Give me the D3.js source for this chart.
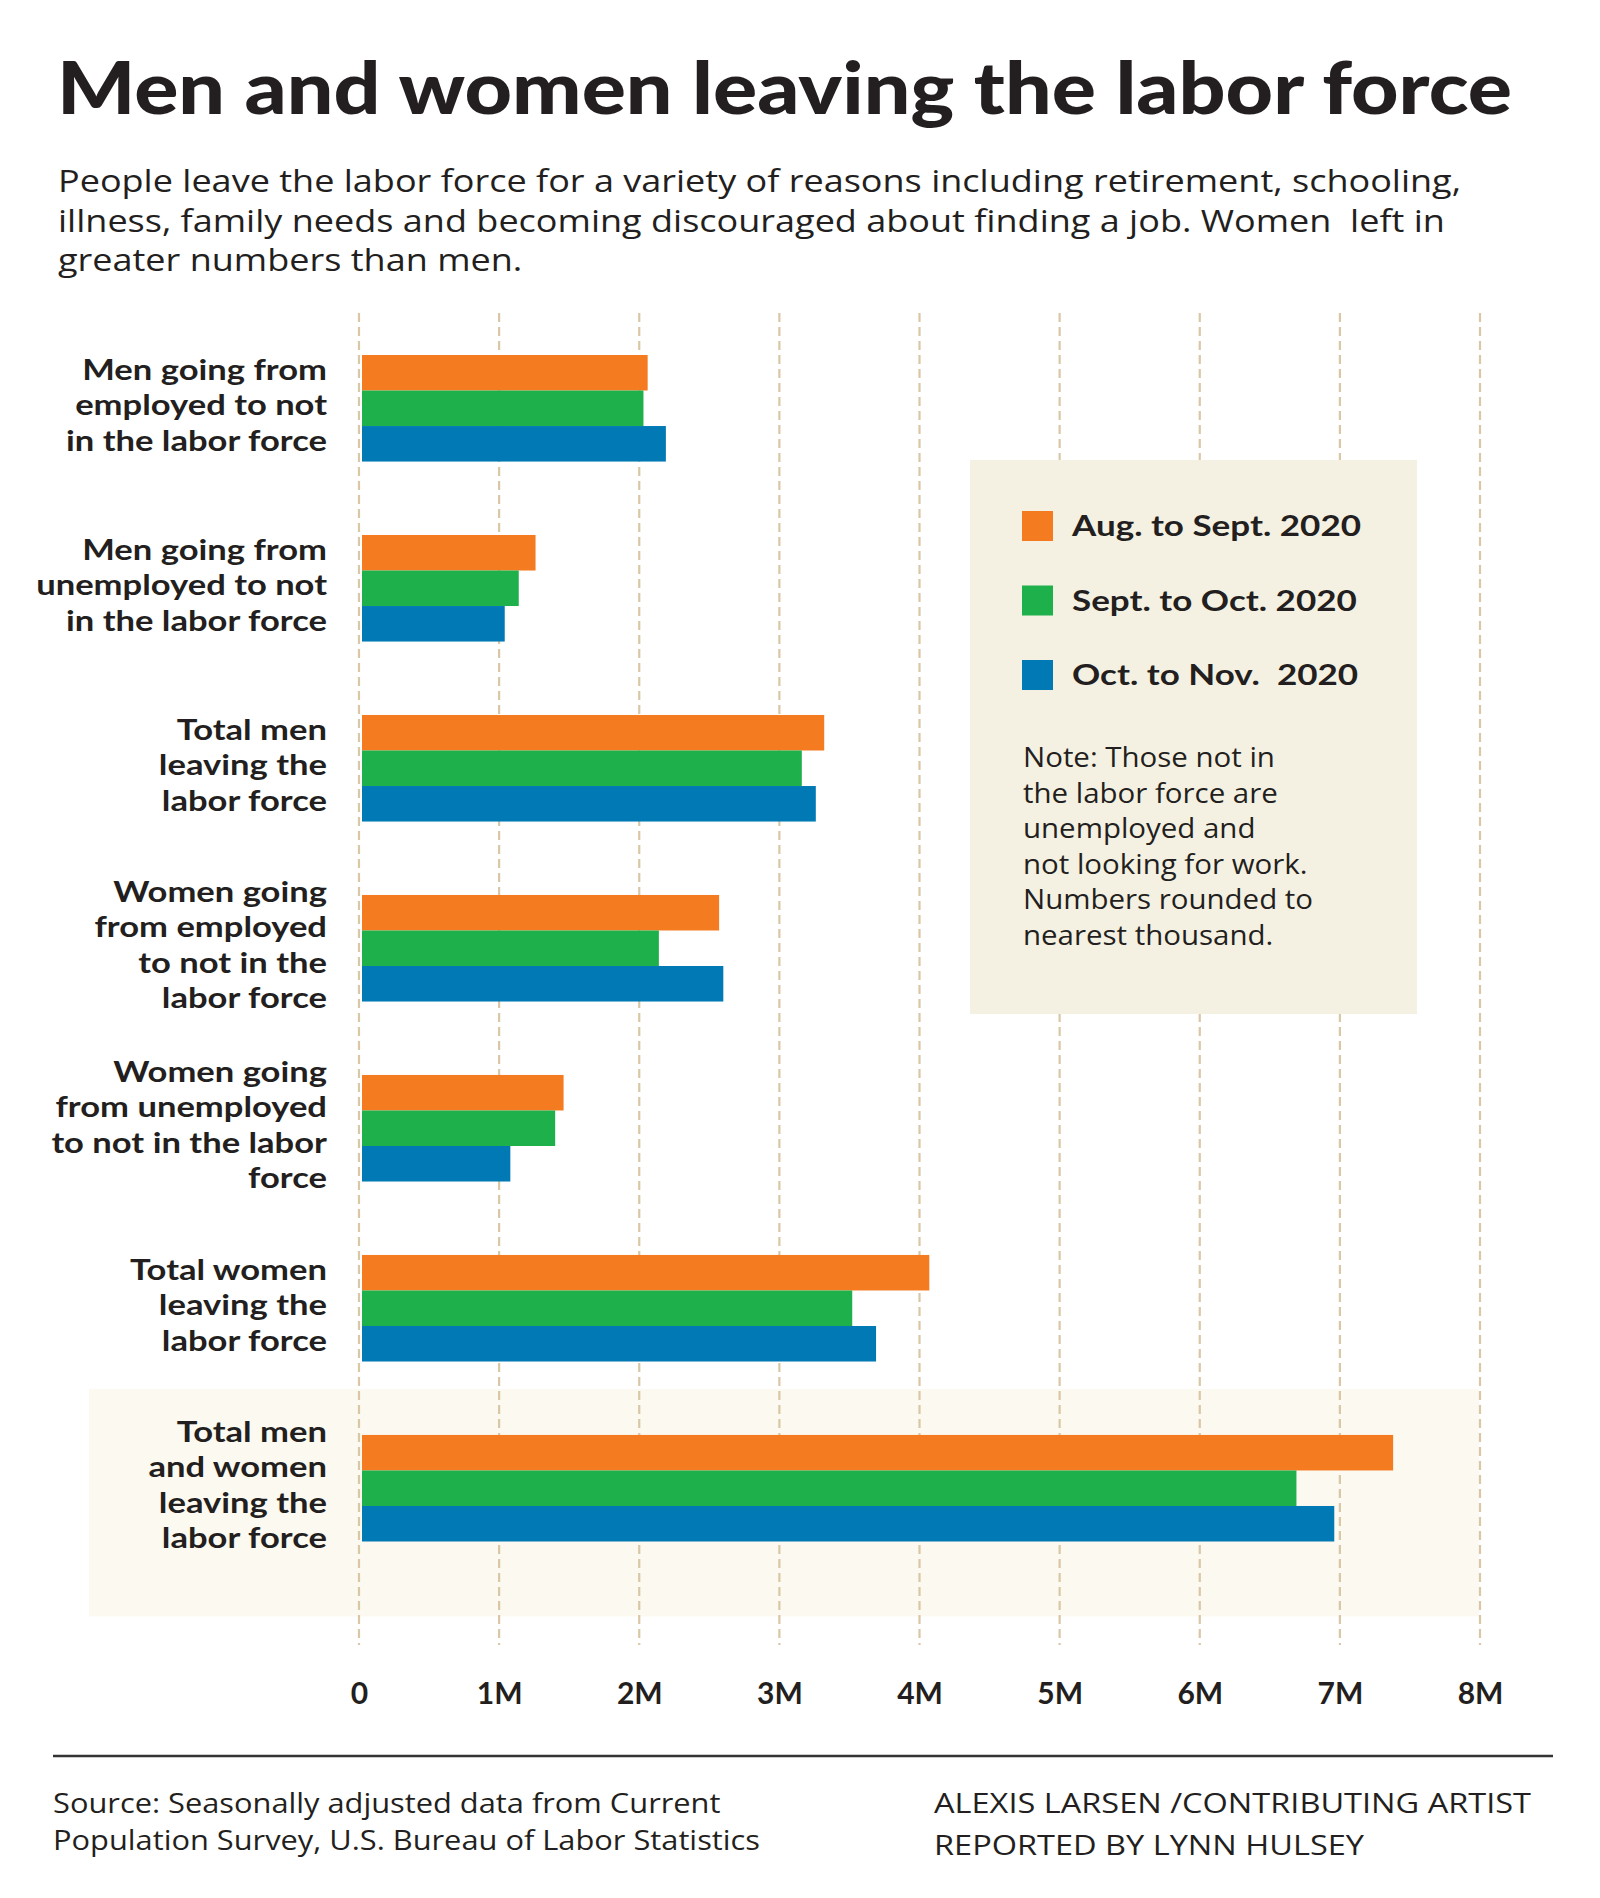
<!DOCTYPE html>
<html>
<head>
<meta charset="utf-8">
<script src="https://cdn.jsdelivr.net/npm/d3@7"></script>
<style>
  body { margin: 0; background: #fff; }
  svg text { font-family: Lato, "Open Sans", sans-serif; fill: #231f20; white-space: pre; }
  svg text.reg { font-family: "Open Sans", Lato, sans-serif; }
</style>
</head>
<body>
<svg id="chart" width="1600" height="1898"></svg>
<script>
// chart data (millions of people)
const categories = [
  "menEmployed", "menUnemployed", "totalMen",
  "womenEmployed", "womenUnemployed", "totalWomen", "totalAll"
];
const categoryLabels = [
  ["Men going from", "employed to not", "in the labor force"],
  ["Men going from", "unemployed to not", "in the labor force"],
  ["Total men", "leaving the", "labor force"],
  ["Women going", "from employed", "to not in the", "labor force"],
  ["Women going", "from unemployed", "to not in the labor", "force"],
  ["Total women", "leaving the", "labor force"],
  ["Total men", "and women", "leaving the", "labor force"]
];
const seriesNames = ["Aug. to Sept. 2020", "Sept. to Oct. 2020", "Oct. to Nov.  2020"];
const augSept = [2.06, 1.26, 3.32, 2.57, 1.46, 4.07, 7.38];
const septOct = [2.03, 1.14, 3.16, 2.14, 1.40, 3.52, 6.69];
const octNov  = [2.19, 1.04, 3.26, 2.60, 1.08, 3.69, 6.96];
const tickValues = [0, 1, 2, 3, 4, 5, 6, 7, 8];
const tickLabels = ["0", "1M", "2M", "3M", "4M", "5M", "6M", "7M", "8M"];
const colors = ["#f47b20", "#1db04b", "#0079b5"];

const title = "Men and women leaving the labor force";
const subtitle = [
  "People leave the labor force for a variety of reasons including retirement, schooling,",
  "illness, family needs and becoming discouraged about finding a job. Women  left in",
  "greater numbers than men."
];
const noteLines = [
  "Note: Those not in", "the labor force are", "unemployed and",
  "not looking for work.", "Numbers rounded to", "nearest thousand."
];
const sourceLines = [
  "Source: Seasonally adjusted data from Current",
  "Population Survey, U.S. Bureau of Labor Statistics"
];
const creditLines = ["ALEXIS LARSEN /CONTRIBUTING ARTIST", "REPORTED BY LYNN HULSEY"];

const seriesValues = [augSept, septOct, octNov];

const svg = d3.select("#chart");

// stretch a group of text lines so that one reference line gets the wanted width
function fit(sel, refIndex, width) {
  const nodes = sel.nodes();
  const k = width / nodes[refIndex].getComputedTextLength();
  nodes.forEach(n => {
    const w = n.getComputedTextLength();
    n.setAttribute("textLength", w * k);
    n.setAttribute("lengthAdjust", "spacingAndGlyphs");
  });
}

// scales
const x = d3.scaleLinear().domain([0, 8]).range([359, 1480]);
const y0 = d3.scaleBand().domain(categories).range([355, 1541.5]).paddingInner(0.408).paddingOuter(0);
const y1 = d3.scaleBand().domain(d3.range(seriesNames.length)).range([0, y0.bandwidth()]);

// title + subtitle
const t = svg.append("text")
  .attr("x", 57).attr("y", 114)
  .attr("font-size", 73).attr("font-weight", 900)
  .text(title);
fit(t, 0, 1455);

const sub = svg.append("g").selectAll("text").data(subtitle).enter().append("text")
  .attr("class", "reg")
  .attr("x", 58).attr("y", (d, i) => 192 + i * 39.5)
  .attr("font-size", 31)
  .text(d => d);
fit(sub, 0, 1403);

// highlighted band behind the grand total
const last = categories[categories.length - 1];
svg.append("rect")
  .attr("x", 89).attr("width", 1479 - 89)
  .attr("y", y0(last) - 46).attr("height", y0.bandwidth() + 46 + 75)
  .attr("fill", "#fcf9f0");

// dashed grid
svg.append("g").selectAll("line").data(tickValues).enter().append("line")
  .attr("x1", d => x(d)).attr("x2", d => x(d))
  .attr("y1", 313).attr("y2", 1645)
  .attr("stroke", "#d9c7a6").attr("stroke-width", 2.2)
  .attr("stroke-dasharray", "9,5");

// legend box (sits over the grid)
svg.append("rect")
  .attr("x", 970).attr("y", 460).attr("width", 447).attr("height", 554)
  .attr("fill", "#f5f1e2");

// bars
const groups = svg.append("g").selectAll("g").data(categories).enter().append("g")
  .attr("transform", d => `translate(0,${y0(d)})`);

groups.selectAll("rect")
  .data((d, ci) => seriesValues.map((s, si) => ({ si: si, v: s[ci] })))
  .enter().append("rect")
  .attr("x", x(0) + 3)
  .attr("y", d => y1(d.si))
  .attr("width", d => x(d.v) - x(0) - 3)
  .attr("height", y1.bandwidth())
  .attr("fill", d => colors[d.si]);

// category labels
const lineH = 35.5;
groups.each(function (d, ci) {
  const lines = categoryLabels[ci];
  const first = y0.bandwidth() / 2 - (lines.length - 1) / 2 * lineH + 7;
  d3.select(this).selectAll("text.cat").data(lines).enter().append("text")
    .attr("class", "cat")
    .attr("x", 327).attr("y", (s, i) => first + i * lineH)
    .attr("text-anchor", "end")
    .attr("font-size", 29).attr("font-weight", 700)
    .text(s => s);
});
fit(svg.selectAll("text.cat"), 2, 261);

// x axis labels
const xAxis = d3.axisBottom(x)
  .tickValues(tickValues)
  .tickFormat((d, i) => tickLabels[i])
  .tickSize(0).tickPadding(0);
const ax = svg.append("g").attr("transform", "translate(0,1683)").call(xAxis);
ax.select(".domain").remove();
ax.selectAll("text")
  .attr("font-size", 30).attr("font-weight", 700)
  .attr("font-family", "Lato, sans-serif").attr("fill", "#231f20")
  .attr("dy", "0.71em");

// legend
const leg = svg.append("g").selectAll("g").data(seriesNames).enter().append("g")
  .attr("transform", (d, i) => `translate(1022,${511 + i * 74.5})`);
leg.append("rect").attr("width", 31).attr("height", 30).attr("fill", (d, i) => colors[i]);
const legText = leg.append("text").attr("x", 50).attr("y", 25)
  .attr("font-size", 29).attr("font-weight", 700)
  .text(d => d);
fit(legText, 0, 289);

// note
const note = svg.append("g").selectAll("text").data(noteLines).enter().append("text")
  .attr("class", "reg")
  .attr("x", 1023).attr("y", (d, i) => 767 + i * 35.5)
  .attr("font-size", 28)
  .text(d => d);
fit(note, 4, 290);

// footer
svg.append("line")
  .attr("x1", 53).attr("x2", 1553).attr("y1", 1756).attr("y2", 1756)
  .attr("stroke", "#333").attr("stroke-width", 2.5);

const src = svg.append("g").selectAll("text").data(sourceLines).enter().append("text")
  .attr("class", "reg")
  .attr("x", 53).attr("y", (d, i) => 1813 + i * 37)
  .attr("font-size", 28).attr("fill", "#333")
  .text(d => d);
fit(src, 1, 707);

const cred = svg.append("g").selectAll("text").data(creditLines).enter().append("text")
  .attr("class", "reg")
  .attr("x", 934).attr("y", (d, i) => 1813 + i * 42)
  .attr("font-size", 28).attr("fill", "#333")
  .text(d => d);
fit(cred, 0, 597);
</script>
</body>
</html>
